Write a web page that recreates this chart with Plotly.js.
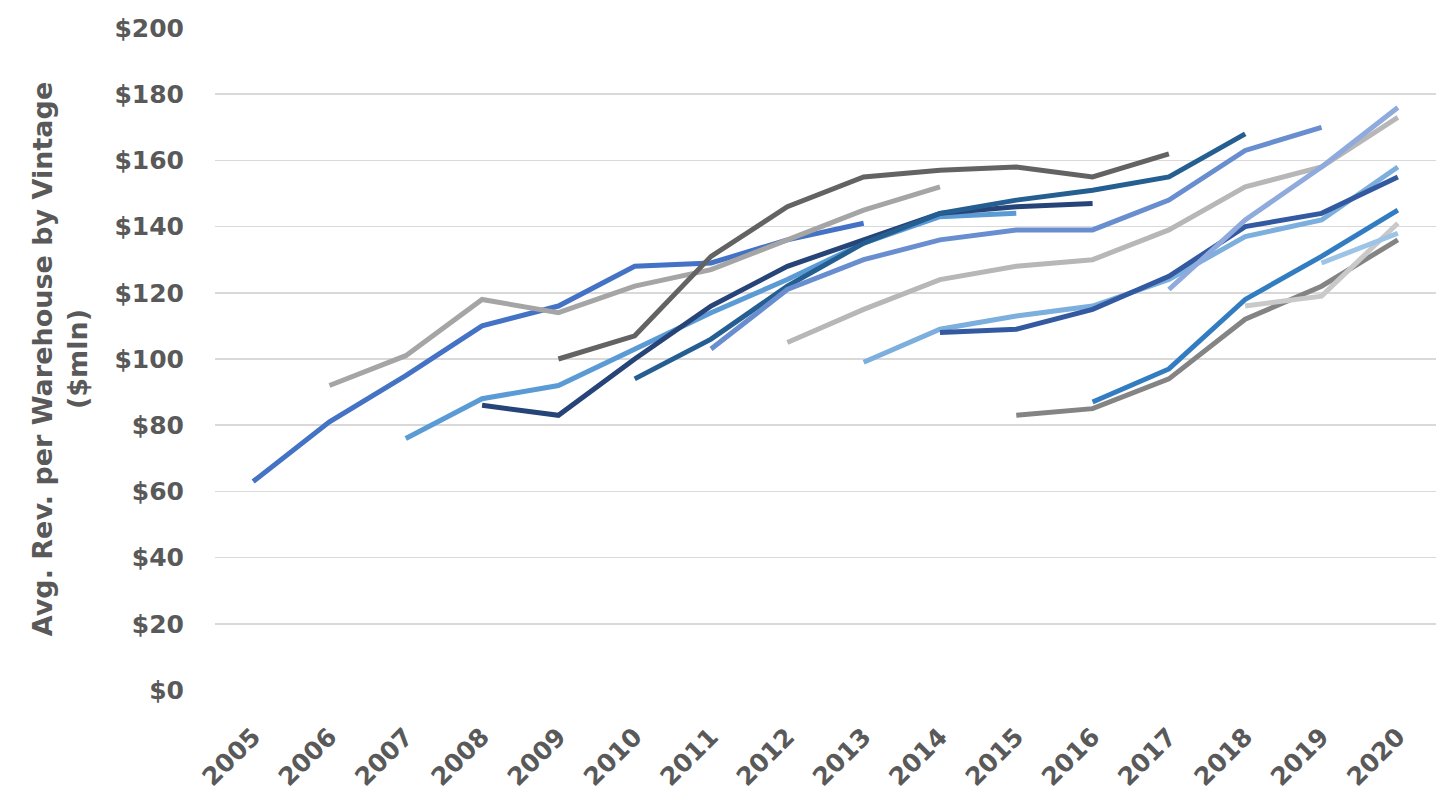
<!DOCTYPE html>
<html>
<head>
<meta charset="utf-8">
<script src="https://cdn.plot.ly/plotly-3.0.1.min.js"></script>
<style>
  html, body { margin: 0; padding: 0; background: #fff; }
  #chart { width: 1456px; height: 812px; }
</style>
</head>
<body>
<div id="chart"></div>
<script>
// years on the x axis
const years = ['2005', '2006', '2007', '2008', '2009', '2010', '2011', '2012',
               '2013', '2014', '2015', '2016', '2017', '2018', '2019', '2020'];

// avg. revenue per warehouse, $mln, one array per vintage (starting at its vintage year)
const v2005 = [63, 81, 95, 110, 116, 128, 129, 136, 141];
const v2006 = [92, 101, 118, 114, 122, 127, 136, 145, 152];
const v2007 = [76, 88, 92, 103, 114, 124, 135, 143, 144];
const v2008 = [86, 83, 100, 116, 128, 136, 144, 146, 147];
const v2009 = [100, 107, 131, 146, 155, 157, 158, 155, 162];
const v2010 = [94, 106, 122, 135, 144, 148, 151, 155, 168];
const v2011 = [103, 121, 130, 136, 139, 139, 148, 163, 170];
const v2012 = [105, 115, 124, 128, 130, 139, 152, 158, 173];
const v2013 = [99, 109, 113, 116, 124, 137, 142, 158];
const v2014 = [108, 109, 115, 125, 140, 144, 155];
const v2015 = [83, 85, 94, 112, 122, 136];
const v2016 = [87, 97, 118, 131, 145];
const v2017 = [121, 142, 158, 176];
const v2018 = [116, 119, 141];
const v2019 = [129, 138];

const vintages = ['2005', '2006', '2007', '2008', '2009', '2010', '2011', '2012',
                  '2013', '2014', '2015', '2016', '2017', '2018', '2019'];
const series = [v2005, v2006, v2007, v2008, v2009, v2010, v2011, v2012,
                v2013, v2014, v2015, v2016, v2017, v2018, v2019];
const colors = ['#4472C4', '#A5A5A5', '#5B9BD5', '#264478', '#636363', '#255E91',
                '#698ED0', '#B7B7B7', '#7CAFDD', '#335AA1', '#848484', '#327DC2',
                '#8FAADC', '#C9C9C9', '#9DC3E6'];

const labelFont = { family: 'DejaVu Sans', size: 25, color: '#595959', weight: 'bold' };
const titleFont = { family: 'DejaVu Sans', size: 27, color: '#595959', weight: 'bold' };

const data = series.map(function(vals, i) {
    const start = years.indexOf(vintages[i]);
    return {
        x: years.slice(start, start + vals.length),
        y: vals,
        name: vintages[i],
        type: 'scatter',
        mode: 'lines',
        line: { color: colors[i], width: 5 },
        hoverinfo: 'x+y+name'
    };
});

const layout = {
    width: 1456,
    height: 812,
    margin: { l: 215, r: 20, t: 28, b: 122 },
    paper_bgcolor: '#fff',
    plot_bgcolor: '#fff',
    showlegend: false,
    font: labelFont,
    xaxis: {
        type: 'category',
        categoryorder: 'array',
        categoryarray: years,
        range: [-0.5, 15.5],
        tickangle: -45,
        tickfont: labelFont,
        showgrid: false,
        zeroline: false,
        showline: false,
        ticks: '',
        ticklabelstandoff: 26
    },
    yaxis: {
        range: [0, 200],
        dtick: 20,
        tickprefix: '$',
        tickfont: labelFont,
        gridcolor: '#D9D9D9',
        gridwidth: 1.5,
        zeroline: false,
        showline: false,
        ticks: '',
        ticklabelstandoff: 30,
        title: {
            text: 'Avg. Rev. per Warehouse by Vintage<br>($mln)',
            font: titleFont,
            standoff: 18
        }
    }
};

Plotly.newPlot('chart', data, layout, { displayModeBar: false, staticPlot: true });
</script>
</body>
</html>
